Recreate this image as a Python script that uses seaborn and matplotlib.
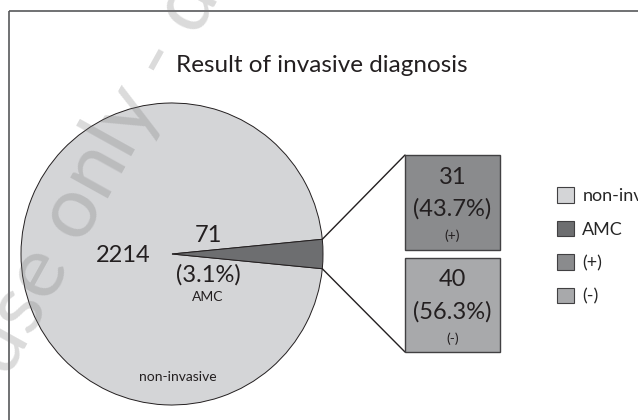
import matplotlib
matplotlib.use('Agg')
import matplotlib.pyplot as plt
import numpy as np
import seaborn as sns
from matplotlib.patches import Patch, Rectangle

# data
pie_labels = ['non-invasive', 'AMC']
pie_counts = [2214, 71]
sub_labels = ['(+)', '(-)']
sub_counts = [31, 40]
legend_labels = ['non-invasive', 'AMC', '(+)', '(-)']
title = 'Result of invasive diagnosis'

colors = {'non-invasive': '#d4d5d7', 'AMC': '#6d6e70',
          '(+)': '#8a8b8d', '(-)': '#a8a9ab'}
edge = '#231f20'

sns.set_style('white')
plt.rcParams['font.family'] = ['Lato', 'DejaVu Sans']

fig = plt.figure(figsize=(6.38, 4.2), dpi=100)
ax = fig.add_axes([0, 0, 1, 1])

# outer frame (runs off the right and bottom edge)
ax.add_patch(Rectangle((9, 11), 700, 500, fill=False, edgecolor='#58595b',
                       lw=1.2, zorder=1))

# pie, AMC slice centred on the right
cx, cy, r = 172, 254, 151
half = 180 * pie_counts[1] / sum(pie_counts)
ax.pie(pie_counts, colors=[colors[l] for l in pie_labels], startangle=half,
       center=(cx, cy), radius=r,
       wedgeprops=dict(edgecolor=edge, linewidth=0.7))

pct = 100 * np.array(pie_counts) / sum(pie_counts)
ax.text(123, 256, f'{pie_counts[0]}', fontsize=17, ha='center', va='center',
        color=edge)
ax.text(208, 236, f'{pie_counts[1]}', fontsize=17, ha='center', va='center',
        color=edge)
ax.text(208, 275, f'({pct[1]:.1f}%)', fontsize=17, ha='center', va='center',
        color=edge)
ax.text(208, 297, pie_labels[1], fontsize=10, ha='center', va='center',
        color=edge)
ax.text(178, 377, pie_labels[0], fontsize=10, ha='center', va='center',
        color=edge)

# breakdown boxes
bx, bw = 452.5, 95
tops = [155, 258]
heights = [95, 94]
sub_pct = 100 * np.array(sub_counts) / sum(sub_counts)
ax.bar([bx, bx], heights, width=bw, bottom=tops,
       color=[colors[l] for l in sub_labels], edgecolor='#414042',
       linewidth=1.0, zorder=3)
for top, n, p, lab in zip(tops, sub_counts, sub_pct, sub_labels):
    ax.text(bx, top + 22, f'{n}', fontsize=17, ha='center', va='center',
            color=edge, zorder=4)
    ax.text(bx, top + 54, f'({p:.1f}%)', fontsize=17, ha='center',
            va='center', color=edge, zorder=4)
    ax.text(bx, top + 81, lab, fontsize=10, ha='center', va='center',
            color=edge, zorder=4)

# connector lines from the AMC slice to the boxes
ang = np.deg2rad(half)
ex = cx + r * np.cos(ang)
ax.plot([ex, bx - bw / 2], [cy - r * np.sin(ang), tops[0]], color=edge,
        lw=1.0, zorder=2)
ax.plot([ex, bx - bw / 2], [cy + r * np.sin(ang), tops[1] + heights[1]],
        color=edge, lw=1.0, zorder=2)

ax.text(322, 72, title, fontsize=17.5, ha='center', va='baseline',
        color=edge)

handles = [Patch(facecolor=colors[l], edgecolor='#414042', linewidth=0.8)
           for l in legend_labels]
ax.legend(handles, legend_labels, loc='upper left',
          bbox_to_anchor=(557 / 638, 1 - 187 / 420), frameon=False,
          fontsize=13, handlelength=0.95, handleheight=0.95,
          labelspacing=0.92, handletextpad=0.45, borderpad=0,
          borderaxespad=0)

# watermark on top of everything
ax.text(8, 380, 'use only - d', rotation=61, fontsize=62,
        color='#737373', alpha=0.26, ha='left', va='baseline',
        rotation_mode='anchor', zorder=20)

ax.set_xlim(0, 638)
ax.set_ylim(420, 0)
ax.set_aspect('equal')
ax.axis('off')

fig.savefig('out.png', dpi=100)
